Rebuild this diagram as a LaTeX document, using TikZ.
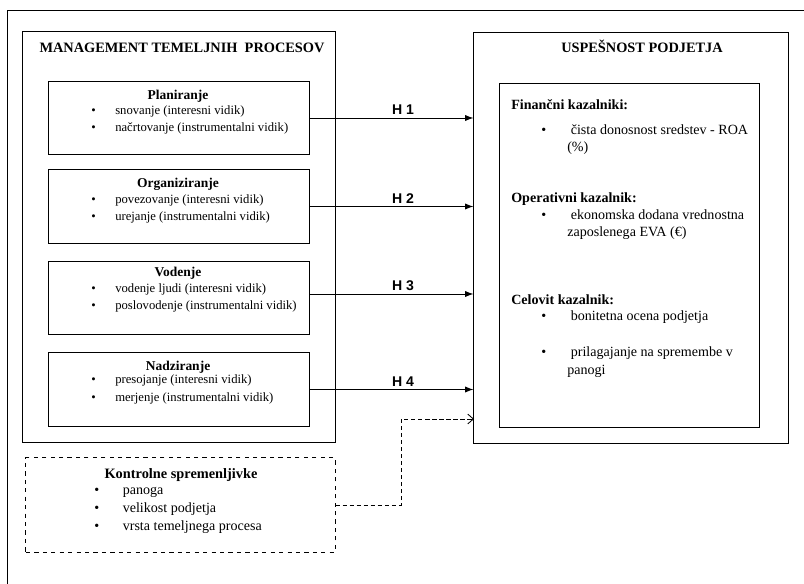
\documentclass[tikz,border=0pt]{standalone}
\usepackage{fontspec}
\setmainfont{Liberation Serif}
\setsansfont{Liberation Sans}
\usetikzlibrary{positioning, arrows.meta}
\newcommand{\bitem}[1][0.6cm]{\makebox[#1][l]{\textbullet}}

\begin{document}
\begin{tikzpicture}[x=0.025cm, y=-0.025cm]
          \tikzset{ box/.style ={draw, line width=0.7pt, inner sep=0pt} }
          \tikzset{ ttl/.style ={font=\fontsize{10.2}{12}\selectfont\bfseries, anchor=base, inner sep=0pt} }
          \tikzset{ sub/.style ={font=\fontsize{9.6}{12}\selectfont\bfseries, anchor=base, inner sep=0pt} }
          \tikzset{ hdr/.style ={font=\fontsize{10}{12}\selectfont\bfseries, anchor=base west, inner sep=0pt} }
          \tikzset{ lst/.style ={font=\fontsize{9}{12.2}\selectfont, align=left, anchor=base west, inner sep=0pt} }
          \tikzset{ hyp/.style ={font=\fontsize{10}{12}\selectfont\sffamily\bfseries, above=1pt, pos=0.57, inner sep=1pt} }

          \useasboundingbox (0,0) rectangle (804,584);
          \draw[line width=0.7pt] (804,10) -- (7,10) -- (7,584);

          % management of core processes
          \node[box, minimum width=7.8cm, minimum height=10.25cm] (mtp) at (179,237) {};
          \node[ttl] (mtp_t) at (182,53) {MANAGEMENT TEMELJNIH\enspace PROCESOV};

          \node[box, minimum width=6.5cm, minimum height=1.8cm] (plan) at (179,118) {};
          \node[sub] (plan_t) at (178,100) {Planiranje};
          \node[lst] (plan_l) at (91,132) {\bitem snovanje (interesni vidik)\\ \bitem načrtovanje (instrumentalni vidik)};

          \node[box, minimum width=6.5cm, minimum height=1.825cm] (org) at (179,206.5) {};
          \node[sub] (org_t) at (178,188) {Organiziranje};
          \node[lst] (org_l) at (91,221) {\bitem povezovanje (interesni vidik)\\ \bitem urejanje (instrumentalni vidik)};

          \node[box, minimum width=6.5cm, minimum height=1.8cm] (vod) at (179,298) {};
          \node[sub] (vod_t) at (178,277) {Vodenje};
          \node[lst] (vod_l) at (91,310) {\bitem vodenje ljudi (interesni vidik)\\ \bitem poslovodenje (instrumentalni vidik)};

          \node[box, minimum width=6.5cm, minimum height=1.825cm] (nad) at (179,389.5) {};
          \node[sub] (nad_t) at (178,371) {Nadziranje};
          \node[lst] (nad_l) at (91,401) {\bitem presojanje (interesni vidik)\\ \bitem merjenje (instrumentalni vidik)};

          % control variables
          \node[box, dashed, minimum width=7.725cm, minimum height=2.35cm] (kon) at (180.5,505) {};
          \node[ttl] (kon_t) at (181,478) {Kontrolne spremenljivke};
          \node[lst, font=\fontsize{10}{12.8}\selectfont] (kon_l) at (94,530) {\bitem[0.625cm] panoga\\ \bitem[0.625cm] velikost podjetja\\ \bitem[0.625cm] vrsta temeljnega procesa};

          % company performance
          \node[box, minimum width=7.85cm, minimum height=10.25cm] (usp) at (631,238) {};
          \node[ttl] (usp_t) at (642,53) {USPEŠNOST PODJETJA};
          \node[box, minimum width=6.475cm, minimum height=8.575cm] (kaz) at (629.5,255.5) {};

          \node[hdr] (fin_t) at (511,110) {Finančni kazalniki:};
          \node[lst, font=\fontsize{10}{12.1}\selectfont] (fin_l) at (541,152) {\bitem[0.65cm] čista donosnost sredstev - ROA\\ \hspace*{0.65cm}(\%)};
          \node[hdr] (op_t) at (511,203) {Operativni kazalnik:};
          \node[lst, font=\fontsize{10}{12.1}\selectfont] (op_l) at (541,237) {\bitem[0.65cm] ekonomska dodana vrednostna\\ \hspace*{0.65cm}zaposlenega EVA (€)};
          \node[hdr] (cel_t) at (511,305) {Celovit kazalnik:};
          \node[lst, font=\fontsize{10}{12.1}\selectfont] (cel_l) at (541,374) {\bitem[0.65cm] bonitetna ocena podjetja\\[0.475cm] \bitem[0.65cm] prilagajanje na spremembe v\\ \hspace*{0.65cm}panogi};

          \draw[->,>={Latex[length=6pt,width=4.5pt]}, line width=0.7pt] (plan.east) -- (plan.east -| usp.west) node [hyp] (h1) {H 1};
          \draw[->,>={Latex[length=6pt,width=4.5pt]}, line width=0.7pt] (org.east) -- (org.east -| usp.west) node [hyp] (h2) {H 2};
          \draw[->,>={Latex[length=6pt,width=4.5pt]}, line width=0.7pt] ([yshift=0.1cm]vod.east) -- ([yshift=0.1cm]vod.east -| usp.west) node [hyp] (h3) {H 3};
          \draw[->,>={Latex[length=6pt,width=4.5pt]}, line width=0.7pt] (nad.east) -- (nad.east -| usp.west) node [hyp] (h4) {H 4};

          \coordinate (kon_in) at (474,419);
          \draw[->,>={Straight Barb[length=4pt,width=7pt]}, line width=0.6pt, dash pattern=on 3pt off 2pt] (kon.east) -| ([xshift=-1.825cm]kon_in) -- (kon_in);
      \end{tikzpicture}
\end{document}
